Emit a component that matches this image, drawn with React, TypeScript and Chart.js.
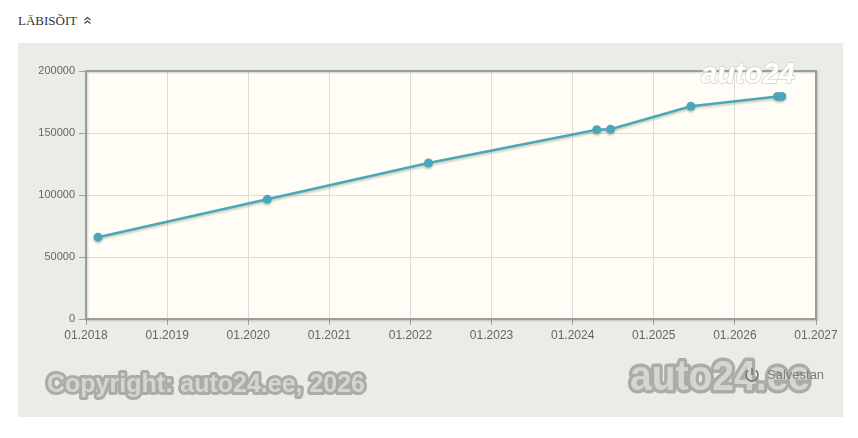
import { useEffect, useRef } from "react";
import { Chart, registerables, Plugin } from "chart.js";

Chart.register(...registerables);

// mileage readings (date of inspection, odometer km)
const readingDates = [
  "2018-02-24",
  "2020-03-27",
  "2022-03-23",
  "2024-04-19",
  "2024-06-20",
  "2025-06-17",
  "2026-07-12",
  "2026-07-31",
];
const readingKm = [66000, 96500, 125800, 152700, 153000, 171500, 179500, 179500];

const yearMin = 2018;
const yearMax = 2027;
const kmMax = 200000;
const kmStep = 50000;

function toYear(d: string) {
  const t = new Date(d + "T00:00:00Z");
  const y = t.getUTCFullYear();
  const start = Date.UTC(y, 0, 1);
  const end = Date.UTC(y + 1, 0, 1);
  return y + (t.getTime() - start) / (end - start);
}

const SANS = '"Liberation Sans", Arial, sans-serif';

// cream plot bg, frame and watermarks
const decorPlugin: Plugin<"line"> = {
  id: "decor",
  beforeDraw(chart) {
    const { ctx, chartArea: a } = chart;
    ctx.save();
    ctx.fillStyle = "#fffdf6";
    ctx.fillRect(a.left, a.top, a.right - a.left, a.bottom - a.top);
    ctx.restore();
  },
  beforeDatasetsDraw(chart) {
    const ctx = chart.ctx;
    ctx.save();
    ctx.shadowColor = "rgba(130,130,80,0.35)";
    ctx.shadowOffsetX = 0;
    ctx.shadowOffsetY = 2;
    ctx.shadowBlur = 2;
  },
  afterDatasetsDraw(chart) {
    chart.ctx.restore();
  },
  afterDraw(chart) {
    const { ctx, chartArea: a } = chart;
    ctx.save();
    // frame
    ctx.shadowColor = "rgba(0,0,0,0.18)";
    ctx.shadowOffsetX = 1;
    ctx.shadowOffsetY = 1;
    ctx.shadowBlur = 2;
    ctx.strokeStyle = "#9c9c9a";
    ctx.lineWidth = 2;
    ctx.strokeRect(a.left, a.top, a.right - a.left, a.bottom - a.top);
    ctx.restore();

    const outlined = (
      text: string,
      x: number,
      y: number,
      font: string,
      w: number,
      fill: string,
      stroke: string,
      lw: number
    ) => {
      ctx.save();
      ctx.font = font;
      const m = ctx.measureText(text).width;
      ctx.translate(x, y);
      ctx.scale(w / m, 1);
      ctx.lineJoin = "round";
      ctx.lineWidth = lw;
      ctx.strokeStyle = stroke;
      ctx.strokeText(text, 0, 0);
      ctx.fillStyle = fill;
      ctx.fillText(text, 0, 0);
      ctx.restore();
    };

    outlined("Copyright: auto24.ee, 2026", 29, 349, `900 25px ${SANS}`, 318, "#d4d6d2", "#aaaca8", 6);
    outlined("auto24.ee", 612, 347, `900 42px ${SANS}`, 180, "#d4d6d2", "#aaaca8", 7);
    outlined("auto24", 683, 40, `bold italic 29px ${SANS}`, 94, "#ffffff", "#d2d2ce", 1.5);

    // Salvestan button
    ctx.save();
    ctx.strokeStyle = "#6f716e";
    ctx.lineWidth = 1.5;
    ctx.beginPath();
    ctx.arc(734, 332, 6, -Math.PI / 2 + 0.7, Math.PI * 1.5 - 0.7);
    ctx.stroke();
    ctx.beginPath();
    ctx.moveTo(734, 325);
    ctx.lineTo(734, 332);
    ctx.stroke();
    ctx.fillStyle = "#7c7e7b";
    ctx.font = `13px ${SANS}`;
    ctx.textBaseline = "middle";
    ctx.fillText("Salvestan", 749, 332);
    ctx.restore();
  },
};

function MileageChart() {
  const canvasRef = useRef<HTMLCanvasElement | null>(null);

  useEffect(() => {
    if (!canvasRef.current) return;
    const points = readingDates.map((d, i) => ({ x: toYear(d), y: readingKm[i] }));

    const chart = new Chart(canvasRef.current, {
      type: "line",
      data: {
        datasets: [
          {
            data: points,
            borderColor: "#4aa6ba",
            backgroundColor: "#4aa6ba",
            borderWidth: 2.5,
            pointRadius: 4.5,
            pointBorderWidth: 0,
            pointBackgroundColor: "#4aa6ba",
            tension: 0,
          },
        ],
      },
      options: {
        animation: false,
        responsive: true,
        maintainAspectRatio: false,
        layout: { padding: { top: 28, right: 27, left: 0, bottom: 0 } },
        plugins: { legend: { display: false }, tooltip: { enabled: false } },
        scales: {
          x: {
            type: "linear",
            min: yearMin,
            max: yearMax,
            afterFit: (s) => {
              s.height = 98;
            },
            border: { display: false },
            grid: { color: "#dcdcd8", tickColor: "#a0a09c", tickLength: 6 },
            ticks: {
              stepSize: 1,
              color: "#666",
              font: { family: SANS, size: 12 },
              padding: 3,
              maxRotation: 0,
              callback: (v) => "01." + v,
            },
          },
          y: {
            min: 0,
            max: kmMax,
            afterFit: (s) => {
              s.width = 68;
            },
            border: { display: false },
            grid: { color: "#dcdcd8", tickColor: "#a0a09c", tickLength: 7 },
            ticks: {
              stepSize: kmStep,
              color: "#666",
              font: { family: SANS, size: 11 },
              padding: 4,
              callback: (v) => String(v),
            },
          },
        },
      },
      plugins: [decorPlugin],
    });

    return () => chart.destroy();
  }, []);

  return <canvas ref={canvasRef} />;
}

export default function App() {
  return (
    <div style={{ position: "relative", width: 842, height: 420 }}>
      <div
        style={{
          position: "absolute",
          left: 10,
          top: 5,
          fontFamily: '"Liberation Serif", "Times New Roman", serif',
          fontSize: 13,
          color: "#333",
          display: "flex",
          alignItems: "center",
          gap: 6,
          lineHeight: "15px",
        }}
      >
        <span>LÄBISÕIT</span>
        <svg width="9" height="9" viewBox="0 0 9 9">
          <polyline points="1.5,4 4.5,1.5 7.5,4" fill="none" stroke="#444" strokeWidth="1.1" />
          <polyline points="1.5,7.5 4.5,5 7.5,7.5" fill="none" stroke="#444" strokeWidth="1.1" />
        </svg>
      </div>
      <div
        style={{
          position: "absolute",
          left: 10,
          top: 35,
          width: 825,
          height: 374,
          background: "#e9ece7",
        }}
      >
        <MileageChart />
      </div>
    </div>
  );
}
